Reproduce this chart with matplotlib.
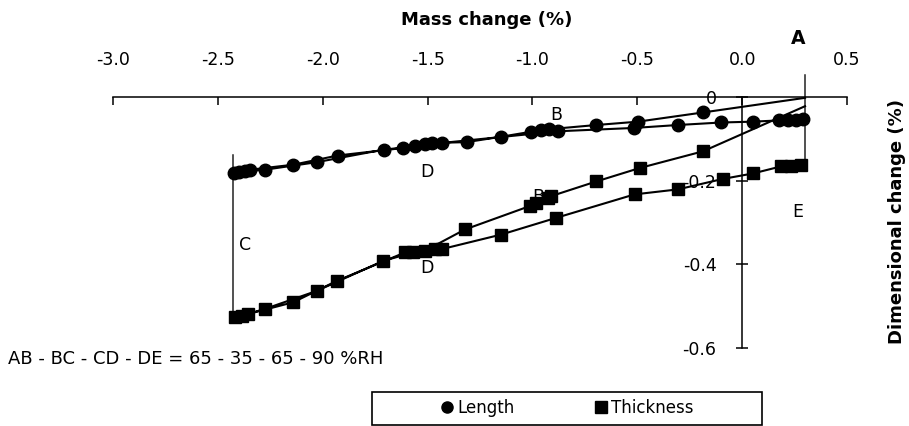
import matplotlib
matplotlib.use("Agg")
import matplotlib.pyplot as plt
from matplotlib.lines import Line2D
from matplotlib.patches import Rectangle

plt.rcParams['font.family'] = ['DejaVu Sans']
plt.rcParams['axes.unicode_minus'] = False

# ---- data (mass change %, dimensional change %) ----
length_mass = [0.30, -0.187, -0.497, -0.695, -0.919, -0.957, -1.005,
               -1.148, -1.314, -1.481, -1.616, -1.929, -2.140, -2.348, -2.401, -2.425,
               -2.371, -2.276, -2.029, -1.710, -1.562, -1.514, -1.433,
               -0.878, -0.514, -0.306, -0.100, 0.051, 0.176, 0.218, 0.257, 0.289]
length_dim = [-0.002, -0.037, -0.059, -0.067, -0.077, -0.079, -0.083,
              -0.095, -0.108, -0.110, -0.122, -0.140, -0.162, -0.174, -0.180, -0.182,
              -0.178, -0.174, -0.156, -0.126, -0.118, -0.113, -0.110,
              -0.082, -0.074, -0.067, -0.061, -0.059, -0.056, -0.056, -0.055, -0.053]

thick_mass = [0.30, -0.187, -0.489, -0.695, -0.910, -0.925, -0.981, -1.013,
              -1.322, -1.513, -1.608, -1.933, -2.140, -2.354, -2.418,
              -2.386, -2.275, -2.029, -1.711, -1.568, -1.465, -1.433,
              -1.148, -0.886, -0.513, -0.306, -0.092, 0.051, 0.186, 0.233, 0.281]
thick_dim = [-0.022, -0.130, -0.170, -0.202, -0.237, -0.241, -0.253, -0.261,
             -0.317, -0.368, -0.372, -0.440, -0.491, -0.519, -0.527,
             -0.523, -0.507, -0.464, -0.392, -0.372, -0.364, -0.364,
             -0.329, -0.289, -0.233, -0.221, -0.196, -0.183, -0.166, -0.164, -0.162]

# vertical marker lines at C and at A/E
line_c_mass = [-2.427, -2.427]
line_c_dim = [-0.138, -0.514]
line_e_mass = [0.30, 0.30]
line_e_dim = [0.052, -0.157]

x_ticks = [-3.0, -2.5, -2.0, -1.5, -1.0, -0.5, 0.0, 0.5]
x_labels = ['-3.0', '-2.5', '-2.0', '-1.5', '-1.0', '-0.5', '0.0', '0.5']
y_ticks = [0.0, -0.2, -0.4, -0.6]
y_labels = ['0', '-0.2', '-0.4', '-0.6']

series_names = ['Length', 'Thickness']
note = 'AB - BC - CD - DE = 65 - 35 - 65 - 90 %RH'

W, H = 909, 426
fig = plt.figure(figsize=(W / 100, H / 100), dpi=100)
ax = fig.add_axes([113 / W, (H - 390) / H, 734 / W, 293 / H])
ax.set_xlim(-3.0, 0.5)
ax.set_ylim(-0.701, 0.0)
ax.set_axisbelow(True)

fs = 12.5

# series (no marker on the starting point A)
ax.plot(length_mass, length_dim, color='black', lw=1.5, marker='o', ms=9,
        markevery=list(range(1, len(length_mass))), zorder=3, clip_on=False)
ax.plot(thick_mass, thick_dim, color='black', lw=1.5, marker='s', ms=9,
        markevery=list(range(1, len(thick_mass))), zorder=3, clip_on=False)
ax.plot(line_c_mass, line_c_dim, color='#222222', lw=1.1, zorder=2, clip_on=False)
ax.plot(line_e_mass, line_e_dim, color='#222222', lw=1.1, zorder=2, clip_on=False)

# spines
ax.spines['right'].set_visible(False)
ax.spines['bottom'].set_visible(False)
ax.spines['top'].set_linewidth(1.1)
ax.spines['left'].set_position(('data', 0))
ax.spines['left'].set_bounds(-0.6, 0)
ax.spines['left'].set_linewidth(1.1)

ax.xaxis.tick_top()
ax.set_xticks(x_ticks)
ax.set_xticklabels(x_labels)
ax.tick_params(axis='x', direction='in', length=6, width=1.1, pad=20, labelsize=fs)
ax.set_yticks(y_ticks)
ax.set_yticklabels(y_labels)
ax.tick_params(axis='y', direction='inout', length=9, width=1.1, pad=14, labelsize=fs)

# point labels
ax.text(0.267, 0.140, 'A', fontsize=fs + 1, fontweight='bold', ha='center', va='center', clip_on=False)
ax.text(-0.886, -0.043, 'B', fontsize=fs, ha='center', va='center', zorder=1)
ax.text(-0.971, -0.239, 'B', fontsize=fs, ha='center', va='center', zorder=1)
ax.text(-2.371, -0.354, 'C', fontsize=fs, ha='center', va='center', zorder=1)
ax.text(-1.505, -0.179, 'D', fontsize=fs, ha='center', va='center', zorder=1)
ax.text(-1.505, -0.409, 'D', fontsize=fs, ha='center', va='center', zorder=1)
ax.text(0.267, -0.275, 'E', fontsize=fs, ha='center', va='center', zorder=1)

# axis titles
fig.text(487 / W, 1 - 20 / H, 'Mass change (%)', fontsize=13, fontweight='bold',
         ha='center', va='center')
fig.text(897 / W, 1 - 222 / H, 'Dimensional change (%)', fontsize=13, fontweight='bold',
         ha='center', va='center', rotation=90)

# note
fig.text(8 / W, 1 - 359 / H, note, fontsize=13, ha='left', va='center')

# legend with box
fig.patches.append(Rectangle((372 / W, 1 - 425 / H), 390 / W, 33 / H,
                             transform=fig.transFigure, fill=False,
                             edgecolor='black', lw=1.2))
handles = [Line2D([], [], color='black', marker='o', ls='none', ms=8),
           Line2D([], [], color='black', marker='s', ls='none', ms=8)]
fig.legend(handles, series_names, loc='center', bbox_to_anchor=(567 / W, 1 - 408 / H),
           ncol=2, frameon=False, fontsize=12, handlelength=0.8, handletextpad=0.2,
           columnspacing=4.8)

fig.savefig('out.png', dpi=100)
